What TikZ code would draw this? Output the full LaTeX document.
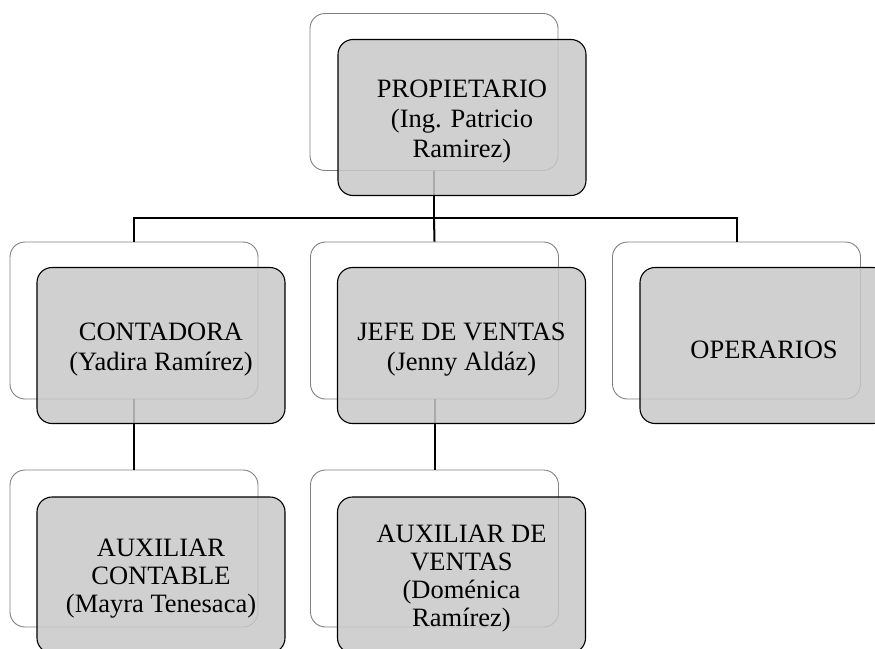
\documentclass[tikz,border=0pt]{standalone}
\usepackage{fontspec}
\setmainfont{Liberation Serif}
\begin{document}
\begin{tikzpicture}[x=1pt,y=-1pt,
 backbox/.style={draw=black!50, line width=0.9pt, rounded corners=15pt, fill=white, minimum width=248pt, minimum height=157pt, inner sep=0pt},
 frontbox/.style={draw=black, line width=1.1pt, rounded corners=15pt, fill={rgb,255:red,200;green,200;blue,200}, fill opacity=0.85, minimum width=248pt, minimum height=156pt, inner sep=0pt},
 boxtext/.style={align=center, inner sep=0pt, font=\fontsize{26.5}{30}\selectfont},
 link/.style={line width=2pt, black}]
\useasboundingbox (0,0) rectangle (875,648);
\clip (0,0) rectangle (875,648);
% back boxes
\node[backbox] (pb) at (434,92) {};
\node[backbox] (cb1) at (134,320.5) {};
\node[backbox] (cb2) at (434.5,320.5) {};
\node[backbox] (cb3) at (736.5,320.5) {};
\node[backbox] (db1) at (134,548.5) {};
\node[backbox] (db2) at (434.5,548.5) {};
% connectors
\coordinate (hub) at (434,218);
\draw[link] (pb.south) -- (hub);
\draw[link] (hub) -| (cb1.north);
\draw[link] (hub) -| (cb3.north);
\draw[link] (hub) -- (cb2.north);
\draw[link] (cb1.south) -- (db1.north);
\draw[link] (cb2.south) -- (db2.north);
% front boxes
\node[frontbox] (pf) at (462,117.5) {};
\node[frontbox] (cf1) at (161,345.5) {};
\node[frontbox] (cf2) at (461.5,345.5) {};
\node[frontbox] (cf3) at (764,345.5) {};
\node[frontbox] (df1) at (161,575) {};
\node[frontbox] (df2) at (461.5,575) {};
% texts
\node[boxtext] (tpf) at ([yshift=-4pt]pf.center) {PROPIETARIO\\(Ing. Patricio\\Ramirez)};
\node[boxtext] (tcf1) at ([yshift=-4pt]cf1.center) {CONTADORA\\(Yadira Ramírez)};
\node[boxtext] (tcf2) at ([yshift=-4pt]cf2.center) {JEFE DE VENTAS\\(Jenny Aldáz)};
\node[boxtext] (tcf3) at ([yshift=-4pt]cf3.center) {OPERARIOS};
\node[boxtext, font=\fontsize{26.5}{28}\selectfont] (tdf1) at ([yshift=-4pt]df1.center) {AUXILIAR\\CONTABLE\\(Mayra Tenesaca)};
\node[boxtext, font=\fontsize{26.5}{28}\selectfont] (tdf2) at ([yshift=-4pt]df2.center) {AUXILIAR DE\\VENTAS\\(Doménica\\Ramírez)};
\end{tikzpicture}
\end{document}
